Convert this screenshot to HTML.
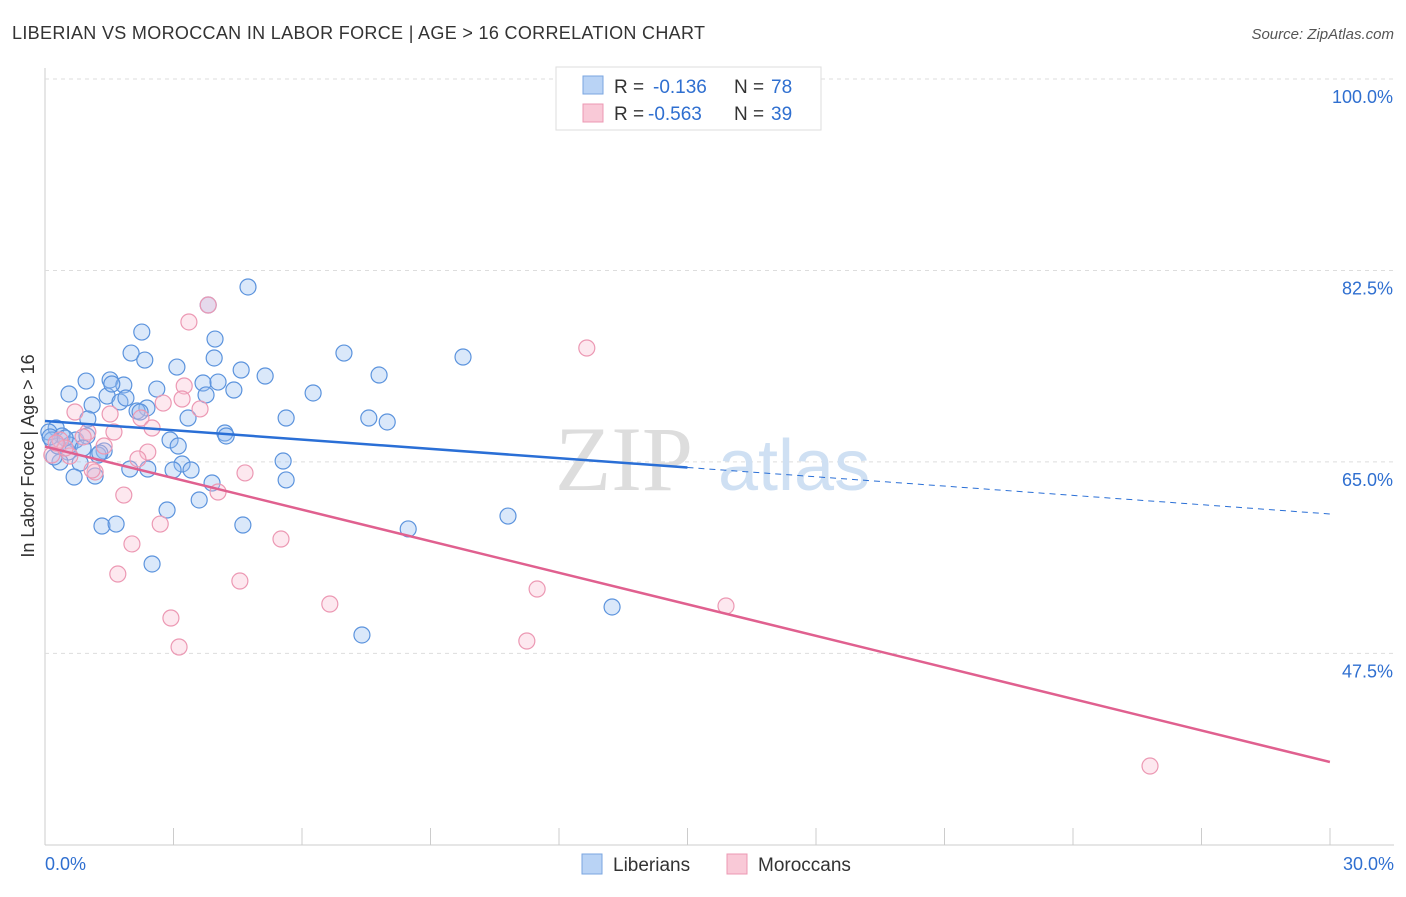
<!DOCTYPE html>
<html><head><meta charset="utf-8"><style>
body{margin:0;background:#fff;font-family:"Liberation Sans",sans-serif}
</style></head><body>
<svg id="chart" width="1406" height="892" xmlns="http://www.w3.org/2000/svg" font-family="Liberation Sans, sans-serif">
<text x="12" y="39" font-size="18" fill="#333" textLength="693">LIBERIAN VS MOROCCAN IN LABOR FORCE | AGE &gt; 16 CORRELATION CHART</text>
<text x="1394" y="39" font-size="15" fill="#555" font-style="italic" text-anchor="end">Source: ZipAtlas.com</text>
<g id="grid"></g>
<g><text x="555" y="490" font-size="92" fill="#ddd" font-family="Liberation Serif, serif">ZIP</text><text x="718" y="490" font-size="72" fill="#cfe0f3">atlas</text></g>
<g id="marks"></g>
<g>
<rect x="556" y="67" width="265" height="63" fill="#fff" stroke="#ddd"/>
<rect x="583" y="76" width="20" height="18" fill="#b9d3f5" stroke="#7aa6e0"/>
<rect x="583" y="104" width="20" height="18" fill="#f9c9d7" stroke="#ec98b3"/>
<text x="614" y="93" font-size="19" fill="#333">R =</text>
<text x="653" y="93" font-size="19" fill="#2f6fd0">-0.136</text>
<text x="734" y="93" font-size="19" fill="#333">N =</text>
<text x="771" y="93" font-size="19" fill="#2f6fd0">78</text>
<text x="614" y="120" font-size="19" fill="#333">R =</text>
<text x="648" y="120" font-size="19" fill="#2f6fd0">-0.563</text>
<text x="734" y="120" font-size="19" fill="#333">N =</text>
<text x="771" y="120" font-size="19" fill="#2f6fd0">39</text>
</g>
<g>
<rect x="582" y="854" width="20" height="20" fill="#b9d3f5" stroke="#7aa6e0"/>
<text x="613" y="871" font-size="19" fill="#333">Liberians</text>
<rect x="727" y="854" width="20" height="20" fill="#f9c9d7" stroke="#ec98b3"/>
<text x="758" y="871" font-size="19" fill="#333">Moroccans</text>
</g>
<text transform="translate(34,456) rotate(-90)" font-size="18" fill="#333" text-anchor="middle">In Labor Force | Age &gt; 16</text>
<text x="45" y="870" font-size="18" fill="#2f6fd0">0.0%</text>
<text x="1394" y="870" font-size="18" fill="#2f6fd0" text-anchor="end">30.0%</text>
</svg>
<script>
const yTicks=[100,82.5,65,47.5];
const yTickLabels=["100.0%","82.5%","65.0%","47.5%"];
const blueTrend=[68.74,60.24];
const pinkTrend=[66.4,37.57];
const bluePx=[[248,287],[208,305],[142,332],[215,339],[131,353],[145,360],[214,358],[177,367],[344,353],[463,357],[86,381],[110,380],[124,385],[157,389],[203,383],[218,382],[241,370],[265,376],[234,390],[313,393],[379,375],[69,394],[107,396],[120,402],[92,405],[147,408],[137,411],[188,418],[286,418],[369,418],[387,422],[88,419],[56,428],[49,432],[62,436],[76,440],[87,436],[170,440],[225,433],[226,436],[52,440],[68,452],[104,451],[98,455],[80,463],[60,462],[54,457],[182,464],[130,469],[148,469],[173,470],[95,476],[74,477],[283,461],[286,480],[212,483],[199,500],[167,510],[102,526],[116,524],[243,525],[408,529],[508,516],[152,564],[612,607],[362,635],[70,445],[140,412],[58,446],[50,437],[65,438],[83,448],[100,453],[112,384],[126,398],[178,446],[191,470],[206,395]];
const pinkPx=[[208,305],[189,322],[587,348],[184,386],[182,399],[163,403],[200,409],[75,412],[110,414],[141,418],[152,428],[88,432],[114,432],[60,440],[104,446],[148,452],[138,459],[95,472],[70,456],[245,473],[218,492],[124,495],[160,524],[281,539],[132,544],[118,574],[240,581],[330,604],[537,589],[726,606],[171,618],[527,641],[179,647],[1150,766],[52,455],[65,448],[83,437],[56,443],[92,470]];
const liberianX=bluePx.map(p=>+((p[0]-45)/42.83).toFixed(2));
const liberianY=bluePx.map(p=>+(100-(p[1]-79)/10.94).toFixed(2));
const moroccanX=pinkPx.map(p=>+((p[0]-45)/42.83).toFixed(2));
const moroccanY=pinkPx.map(p=>+(100-(p[1]-79)/10.94).toFixed(2));
const NS="http://www.w3.org/2000/svg";
const sx=v=>45+v*42.83, sy=v=>79+(100-v)*10.94;
function mk(t,a,parent){const e=document.createElementNS(NS,t);for(const k in a)e.setAttribute(k,a[k]);parent.appendChild(e);return e;}
const grid=document.getElementById('grid'), marks=document.getElementById('marks'), svg=document.getElementById('chart');
mk('line',{x1:45,y1:68,x2:45,y2:845,stroke:'#ccc'},grid);
mk('line',{x1:45,y1:845,x2:1394,y2:845,stroke:'#ccc'},grid);
for(let i=1;i<=10;i++){const l=mk('line',{x1:45+i*128.5,y1:828,x2:45+i*128.5,y2:845,stroke:'#ccc'},grid);}
yTicks.forEach((t,i)=>{const l=mk('line',{x1:45,y1:sy(t),x2:1394,y2:sy(t),stroke:'#ddd','stroke-dasharray':'4,4'},grid);

const tx=mk('text',{x:1393,y:sy(t)+24,'font-size':18,fill:'#2f6fd0','text-anchor':'end'},svg);tx.textContent=yTickLabels[i];
});
liberianX.forEach((x,i)=>{const c=mk('circle',{cx:sx(x),cy:sy(liberianY[i]),r:8,fill:'rgba(150,190,240,0.35)',stroke:'#5b93dd','stroke-width':1.2},marks);
});
moroccanX.forEach((x,i)=>{const c=mk('circle',{cx:sx(x),cy:sy(moroccanY[i]),r:8,fill:'rgba(248,190,210,0.35)',stroke:'#ec98b3','stroke-width':1.2},marks);
});
const bAt=x=>blueTrend[0]+(blueTrend[1]-blueTrend[0])*x/30;
let l1=mk('line',{x1:sx(0),y1:sy(bAt(0)),x2:sx(15),y2:sy(bAt(15)),stroke:'#2a6fd6','stroke-width':2.5},marks);

let l2=mk('line',{x1:sx(15),y1:sy(bAt(15)),x2:sx(30),y2:sy(bAt(30)),stroke:'#2a6fd6','stroke-width':1,'stroke-dasharray':'6,5'},marks);

let l3=mk('line',{x1:sx(0),y1:sy(pinkTrend[0]),x2:sx(30),y2:sy(pinkTrend[1]),stroke:'#e0608f','stroke-width':2.5},marks);

</script>
</body></html>
